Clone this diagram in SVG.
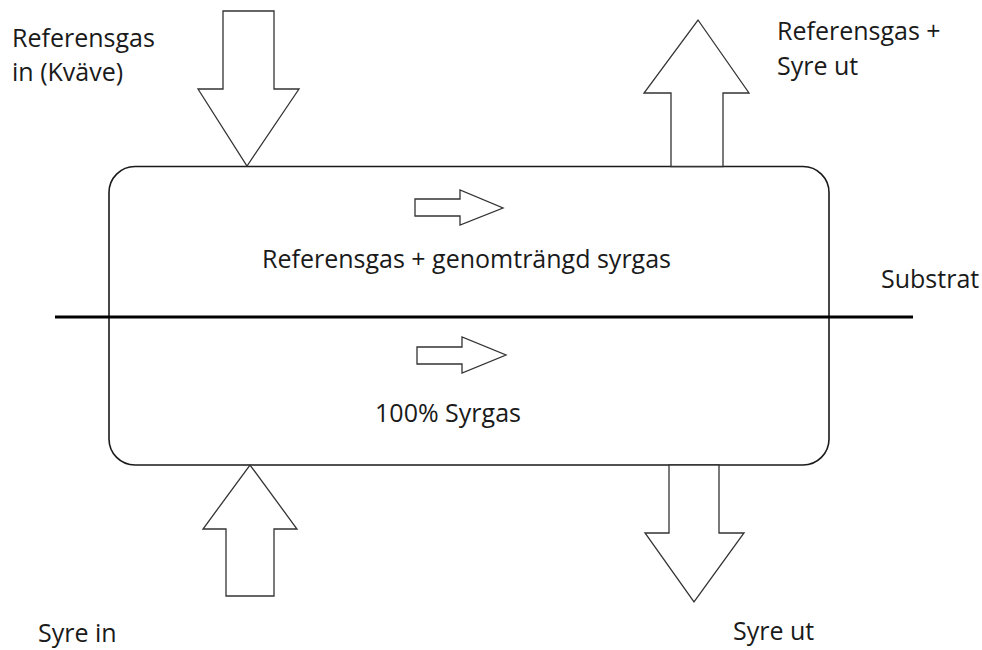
<svg xmlns="http://www.w3.org/2000/svg" width="982" height="650" viewBox="0 0 982 650">
  <style>
    .lbl { font-family: "Open Sans", "Noto Sans", "DejaVu Sans", sans-serif; font-size: 25px; fill: #1a1a1a; }
    .mid { text-anchor: middle; }
    .blk { fill: #ffffff; stroke: #333333; stroke-width: 1.3; stroke-linejoin: miter; }
    .cell { fill: #ffffff; stroke: #1a1a1a; stroke-width: 1.6; }
    .sub { stroke: #000000; stroke-width: 3; fill: none; }
  </style>
  <rect width="982" height="650" fill="#ffffff"/>

  <g id="chamber">
    <rect class="cell" x="109" y="166.5" width="720" height="298.5" rx="26" ry="26"/>
  </g>

  <g id="flows">
    <g id="arrow-ref-in">
      <polygon class="blk" points="223,11 274,11 274,89 299,89 247,166 198,89 223,89"/>
    </g>
    <g id="arrow-ref-out">
      <polygon class="blk" points="671,166.5 671,93 644,93 698,20 749,93 723,93 723,166.5"/>
    </g>
    <g id="arrow-o2-in">
      <polygon class="blk" points="226,596 226,529 203,529 250,465 297,529 274,529 274,596"/>
    </g>
    <g id="arrow-o2-out">
      <polygon class="blk" points="669,465 669,533 645,533 694,602 744,533 719,533 719,465"/>
    </g>
    <g id="flow-top">
      <polygon class="blk" points="415,199 460,199 460,190 503,208 460,225 460,216 415,216"/>
    </g>
    <g id="flow-bottom">
      <polygon class="blk" points="417,347 462,347 462,337 506,355 462,373 462,364 417,364"/>
    </g>
  </g>

  <g id="substrate">
    <line class="sub" x1="55" y1="317" x2="913" y2="317"/>
  </g>

  <g id="labels">
    <g id="label-ref-in">
      <text class="lbl" x="12" y="47">Referensgas</text>
      <text class="lbl" x="12" y="81">in (Kväve)</text>
    </g>
    <g id="label-ref-out">
      <text class="lbl" x="777" y="40">Referensgas +</text>
      <text class="lbl" x="777" y="75">Syre ut</text>
    </g>
    <g id="label-top-chamber">
      <text class="lbl mid" x="466.5" y="268">Referensgas + genomträngd syrgas</text>
    </g>
    <g id="label-bottom-chamber">
      <text class="lbl mid" x="448" y="422">100% Syrgas</text>
    </g>
    <g id="label-substrat">
      <text class="lbl" x="881" y="288">Substrat</text>
    </g>
    <g id="label-o2-in">
      <text class="lbl" x="38" y="642">Syre in</text>
    </g>
    <g id="label-o2-out">
      <text class="lbl" x="733" y="640">Syre ut</text>
    </g>
  </g>
</svg>
